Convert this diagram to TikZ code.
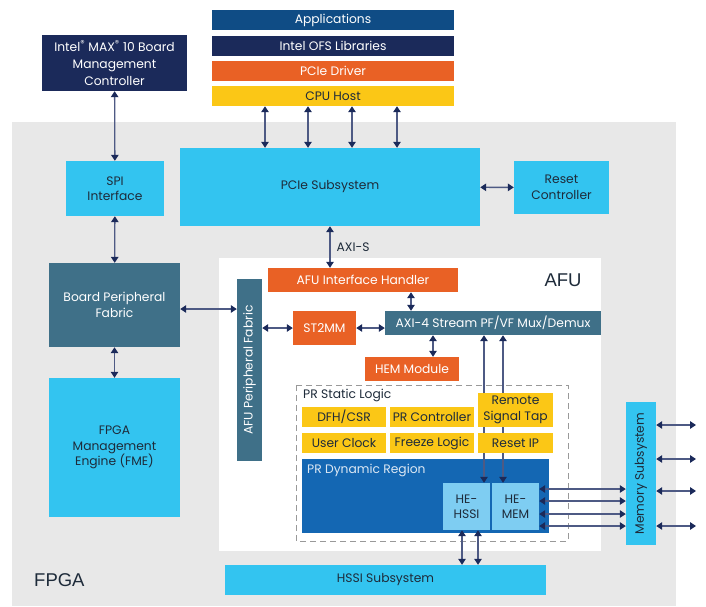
\documentclass[tikz,border=0pt]{standalone}
\usepackage{fontspec}
\setmainfont{Poppins}
\newfontfamily\labelfont{Liberation Sans}
\usetikzlibrary{arrows.meta}
\pgfdeclarelayer{back}
\pgfdeclarelayer{under}
\pgfsetlayers{back,under,main}

\definecolor{fpgagray}{HTML}{E8E8E8}
\definecolor{navyc}{HTML}{1B2A5A}
\definecolor{appblue}{HTML}{0F4C85}
\definecolor{orangec}{HTML}{E96125}
\definecolor{yellowc}{HTML}{FBC716}
\definecolor{cyanc}{HTML}{33C4F0}
\definecolor{tealc}{HTML}{3F7088}
\definecolor{dynblue}{HTML}{1467B3}
\definecolor{lightc}{HTML}{7ECDF2}
\definecolor{linec}{HTML}{4E5A84}
\definecolor{textc}{HTML}{1E2B3A}

\begin{document}
\begin{tikzpicture}[x=1pt,y=-1pt,
  box/.style={inner sep=0pt,align=center,font=\fontsize{12.3}{15.5}\selectfont},
  dark/.style={box,fill=#1,text=white},
  lite/.style={box,fill=#1,text=textc},
  arr/.style={draw=linec,line width=1.3pt,
    {Triangle[length=6pt,width=7.5pt,color=navyc]}-{Triangle[length=6pt,width=7.5pt,color=navyc]}}]
\useasboundingbox (0,0) rectangle (706,606);
\begin{pgfonlayer}{back}
\fill[fpgagray] (12,122) rectangle (676,606);
\fill[white] (219,258) rectangle (601,551);
\end{pgfonlayer}

% host stack
\node (apps) at (333,20) [dark=appblue,minimum width=242pt,minimum height=20pt] {Applications};
\node (ofs) at (333,46) [dark=navyc,minimum width=242pt,minimum height=20pt] {Intel OFS Libraries};
\node (drv) at (333,71) [dark=orangec,minimum width=242pt,minimum height=20pt] {PCIe Driver};
\node (cpu) at (333,96) [lite=yellowc,minimum width=242pt,minimum height=20pt] {CPU Host};

\node (max) at (114.5,63) [dark=navyc,minimum width=145pt,minimum height=56pt,font=\fontsize{12.3}{17}\selectfont] {Intel\textsuperscript{®} MAX\textsuperscript{®} 10 Board\\Management\\Controller};
\node (pcie) at (330,187) [lite=cyanc,minimum width=300pt,minimum height=78pt] {PCIe Subsystem};
\node (spi) at (115,188.5) [lite=cyanc,minimum width=98pt,minimum height=55pt] {SPI\\Interface};
\node (rst) at (561.5,187.5) [lite=cyanc,minimum width=95pt,minimum height=53pt] {Reset\\Controller};
\node (bpf) at (114.5,305) [dark=tealc,minimum width=131pt,minimum height=84pt] {Board Peripheral\\Fabric};
\node (fme) at (114.5,447.5) [lite=cyanc,minimum width=131pt,minimum height=139pt] {FPGA\\Management\\Engine (FME)};

% AFU
\node (afulbl) at (563,280) [box,font=\labelfont\fontsize{18.5}{22}\selectfont,text=textc] {AFU};
\node (ih) at (363,280) [dark=orangec,minimum width=190pt,minimum height=24pt] {AFU Interface Handler};
\node (apf) at (249.5,370) [dark=tealc,minimum width=182pt,minimum height=25pt,rotate=90] {AFU Peripheral Fabric};
\node (st) at (324.5,328) [dark=orangec,minimum width=63pt,minimum height=34pt] {ST2MM};
\node (axi) at (493,323) [dark=tealc,minimum width=216pt,minimum height=24pt] {AXI-4 Stream PF/VF Mux/Demux};
\node (hem) at (412,369) [dark=orangec,minimum width=94pt,minimum height=24pt] {HEM Module};

\draw[gray!80,line width=1pt,dash pattern=on 6pt off 4pt] (296,385) rectangle (568,541);
\node (sl) at (303,395) [box,anchor=west,text=textc] {PR Static Logic};
\node (dfh) at (344,417) [lite=yellowc,minimum width=84pt,minimum height=20pt] {DFH/CSR};
\node (prc) at (432,417) [lite=yellowc,minimum width=84pt,minimum height=20pt] {PR Controller};
\node (stp) at (515.5,410) [lite=yellowc,minimum width=75pt,minimum height=34pt] {Remote\\Signal Tap};
\node (clk) at (344,443) [lite=yellowc,minimum width=84pt,minimum height=20pt] {User Clock};
\node (frz) at (432,443) [lite=yellowc,minimum width=84pt,minimum height=20pt] {Freeze Logic};
\node (rip) at (515.5,443) [lite=yellowc,minimum width=75pt,minimum height=20pt] {Reset IP};
\begin{pgfonlayer}{back}
\node (dyn) at (425.5,496) [box,fill=dynblue,minimum width=247pt,minimum height=74pt] {};
\end{pgfonlayer}
\node (dynlbl) at (307,470) [box,anchor=west,text=white!85!dynblue] {PR Dynamic Region};
\node (hs) at (466.5,506.5) [lite=lightc,minimum width=47pt,minimum height=47pt] {HE-\\HSSI};
\node (hm) at (515.5,506.5) [lite=lightc,minimum width=47pt,minimum height=47pt] {HE-\\MEM};

\node (mem) at (641,473.5) [lite=cyanc,minimum width=143pt,minimum height=30pt,rotate=90] {Memory Subsystem};
\node (hssi) at (385.5,580) [lite=cyanc,minimum width=321pt,minimum height=30pt] {HSSI Subsystem};
\node (fpga) at (34,580) [box,anchor=west,font=\labelfont\fontsize{18.5}{22}\selectfont,text=textc] {FPGA};

% connectors
\foreach \d in {-68,-25,19,64}
  \draw[arr] ([xshift=\d pt]cpu.south) -- ([xshift=\d pt]cpu.south |- pcie.north);
\draw[arr] (max) -- (spi);
\draw[arr] (spi) -- (bpf);
\draw[arr] (bpf) -- (fme);
\draw[arr] (pcie) -- (rst);
\draw[arr] (pcie.south -| 330,0) -- (ih.north -| 330,0) node[midway,right=6pt,box,text=textc] {AXI-S};
\draw[arr] (bpf.east |- 0,309) -- (apf.north |- 0,309);
\draw[arr] (apf.south |- st) -- (st);
\draw[arr] (st) -- (axi.west |- st);
\draw[arr] (ih.south -| 411,0) -- (axi.north -| 411,0);
\draw[arr] (axi.south -| 433,0) -- (hem.north -| 433,0);
% these two run behind the yellow boxes
\begin{pgfonlayer}{under}
\draw[arr] (axi.south -| 484,0) -- (hs.north -| 484,0);
\draw[arr] (axi.south -| 503,0) -- (hm.north -| 503,0);
\end{pgfonlayer}
\foreach \y in {489,501,514,526}
  \draw[arr] (hm.east |- 0,\y) -- (mem.north |- 0,\y);
\foreach \y in {425,459,491,526}
  \coordinate (out\y) at (696,\y);
\foreach \y in {425,459,491,526}
  \draw[arr] (mem.south |- 0,\y) -- (out\y);
\draw[arr] (hs.south -| 462,0) -- (hssi.north -| 462,0);
\draw[arr] (hs.south -| 478,0) -- (hssi.north -| 478,0);
\end{tikzpicture}
\end{document}
